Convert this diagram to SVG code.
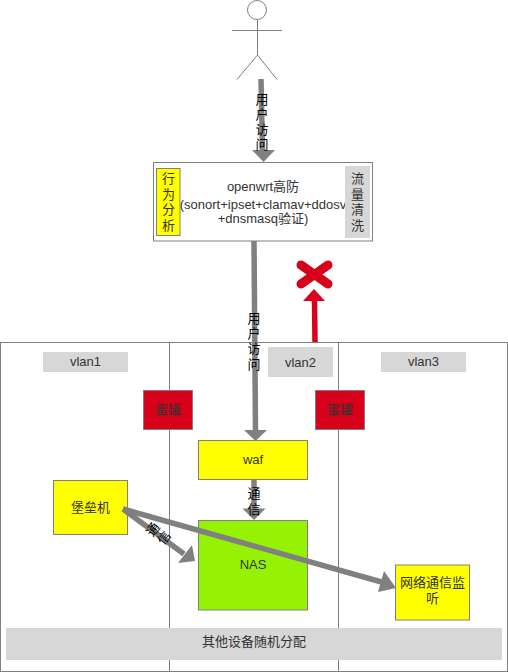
<svg xmlns="http://www.w3.org/2000/svg" width="508" height="672" viewBox="0 0 508 672">
<style>
text{font-family:"Liberation Sans","Noto Sans CJK SC",sans-serif;font-size:13px;fill:#333;text-anchor:middle}
.lab{fill:#000}
.y{fill:#ff0;stroke:#808080;stroke-width:1}
.r{fill:#d9001b;stroke:#808080;stroke-width:1}
.g{fill:#d7d7d7}
.ln{stroke:#808080;fill:none;stroke-width:1}
.c{stroke:#808080;stroke-width:5.500;fill:none}
.h{fill:#808080}
</style>
<rect width="508" height="672" fill="#fff"/>
<g id="vlan-zones">
<rect class="ln" x="0.500" y="342.500" width="507" height="329"/>
<path class="ln" d="M169.500 342.500V671.500M338.500 342.500V671.500"/>
</g>
<g id="vlan1"><rect class="g" x="43" y="352" width="85" height="20"/><text x="85.500" y="366">vlan1</text></g>
<g id="vlan2"><rect class="g" x="268" y="347" width="65" height="30"/><text x="300.500" y="367">vlan2</text></g>
<g id="vlan3"><rect class="g" x="381" y="352" width="85" height="20"/><text x="423.500" y="366">vlan3</text></g>
<g id="honeypot1"><rect class="r" x="143.500" y="390.500" width="49" height="39"/><text x="168" y="414">蜜罐</text></g>
<g id="honeypot2"><rect class="r" x="315.500" y="390.500" width="49" height="39"/><text x="340" y="414">蜜罐</text></g>
<g id="actor">
<circle class="ln" cx="257" cy="10" r="9.500"/>
<path class="ln" d="M257.500 20V55M232 30.500H282M257.500 55L237 79.500M257.500 55L277 79.500"/>
</g>
<g id="openwrt">
<rect x="153.500" y="162.500" width="219" height="78.500" fill="#fff" stroke="#808080"/>
<text x="263" y="191">openwrt高防</text>
<text x="263" y="209">(sonort+ipset+clamav+ddosv</text>
<text x="263" y="223">+dnsmasq验证)</text>
</g>
<g id="behavior"><rect class="y" x="156.500" y="168.500" width="23.500" height="67"/>
<text x="168.500" y="183">行</text><text x="168.500" y="199">为</text><text x="168.500" y="214">分</text><text x="168.500" y="230">析</text></g>
<g id="scrub"><rect class="g" x="345" y="166" width="25" height="72"/>
<text x="357.500" y="183">流</text><text x="357.500" y="199">量</text><text x="357.500" y="214">清</text><text x="357.500" y="230">洗</text></g>
<g id="waf"><rect class="y" x="198.500" y="440.500" width="109" height="39"/><text x="253" y="464">waf</text></g>
<g id="nas"><rect x="198.500" y="520.500" width="109" height="89.500" fill="#95f204" stroke="#808080"/><text x="253" y="569">NAS</text></g>
<g id="bastion"><rect class="y" x="53.500" y="480.500" width="74" height="54"/><text x="90.500" y="512">堡垒机</text></g>
<g id="monitor"><rect class="y" x="395.500" y="565" width="74" height="55"/><text x="432.500" y="587">网络通信监</text><text x="432.500" y="603">听</text></g>
<g id="other"><rect class="g" x="6" y="628" width="496" height="32"/><text x="254" y="646">其他设备随机分配</text></g>
<g id="connectors">
<path class="c" d="M261 79L262.500 151"/><path class="h" d="M252 150L275 150L263.500 162Z"/>
<path class="c" d="M254 241L255.500 431"/><path class="h" d="M244 430L267 430L255.500 441Z"/>
<path class="c" d="M254 480V509"/><path class="h" d="M242.500 508.500H265.500L254 520Z"/>
<path class="c" d="M123 509L184 554"/><path class="h" d="M195 561L178 563L192 545Z"/>
<path class="c" d="M123 509L385 583"/><path class="h" d="M396 588L378 592L384 571Z"/>
<path d="M315 342L314.500 300" stroke="#d9001b" stroke-width="5.500" fill="none"/><path fill="#d9001b" d="M314 289L325 301H303Z"/>
<path d="M301 265L328 284M328 265L301 284" fill="none" stroke="#d9001b" stroke-width="9" stroke-linecap="round"/>
</g>
<g id="labels">
<text class="lab" x="262" y="104">用</text><text class="lab" x="262" y="119">户</text><text class="lab" x="262" y="134">访</text><text class="lab" x="262" y="149">问</text>
<text class="lab" x="254" y="323">用</text><text class="lab" x="254" y="338">户</text><text class="lab" x="254" y="353">访</text><text class="lab" x="254" y="369">问</text>
<text class="lab" x="254" y="498">通</text><text class="lab" x="254" y="514">信</text>
<g transform="translate(159 534) rotate(-53)"><text class="lab" x="0" y="-3">通</text><text class="lab" x="0" y="11">信</text></g>
</g>
</svg>
